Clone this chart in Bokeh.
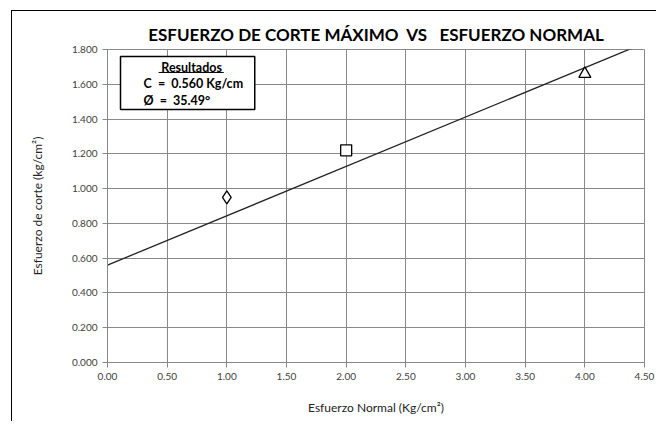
from bokeh.plotting import figure
from bokeh.models import Range1d, FixedTicker, CustomJSTickFormatter, BoxAnnotation, Label
from bokeh.embed import file_html
from bokeh.resources import INLINE

# data
esf_normal = [1.00, 2.00, 4.00]
esf_corte = [0.95, 1.22, 1.66]
markers = ["diamond", "square", "triangle"]
cohesion = 0.560
pendiente = 0.2838
linea_x = [0.0, 4.5]
linea_y = [cohesion + pendiente * v for v in linea_x]
x_ticks = [0.0, 0.5, 1.0, 1.5, 2.0, 2.5, 3.0, 3.5, 4.0, 4.5]
y_ticks = [0.0, 0.2, 0.4, 0.6, 0.8, 1.0, 1.2, 1.4, 1.6, 1.8]

FONT = "Lato"
GRID = "#888888"
NB = "\u00a0"

p = figure(width=645, height=411, output_backend="svg", toolbar_location=None,
           x_range=Range1d(0, 4.5), y_range=Range1d(0, 1.8),
           min_border_left=95, min_border_right=13, min_border_top=38, min_border_bottom=60,
           margin=(10, 0, 0, 11),
           styles={"border-left": "1px solid black", "border-top": "1px solid black"})
p.title.text = "ESFUERZO DE CORTE MÁXIMO" + NB * 2 + "VS" + NB * 3 + "ESFUERZO NORMAL"
p.title.align = "center"
p.title.text_font = FONT
p.title.text_font_size = "17px"
p.title.text_font_style = "bold"
p.title.text_color = "black"

p.outline_line_color = GRID
p.xaxis.ticker = FixedTicker(ticks=x_ticks)
p.yaxis.ticker = FixedTicker(ticks=y_ticks)
p.xaxis.formatter = CustomJSTickFormatter(code="return tick.toFixed(2);")
p.yaxis.formatter = CustomJSTickFormatter(code="return tick.toFixed(3);")
for ax in (p.xaxis, p.yaxis):
    ax.axis_line_color = GRID
    ax.major_tick_line_color = GRID
    ax.major_tick_out = 5
    ax.major_tick_in = 0
    ax.minor_tick_line_color = None
    ax.major_label_text_font = FONT
    ax.major_label_text_font_size = "10px"
    ax.major_label_text_color = "#404040"
    ax.axis_label_text_font = FONT
    ax.axis_label_text_font_size = "12px"
    ax.axis_label_text_font_style = "normal"
    ax.axis_label_text_color = "#222222"
p.xaxis.axis_label = "Esfuerzo Normal (Kg/cm²)"
p.yaxis.axis_label = "Esfuerzo de corte (kg/cm²)"
p.xaxis.axis_label_standoff = 17
p.yaxis.axis_label_standoff = 24
p.xgrid.grid_line_color = GRID
p.ygrid.grid_line_color = GRID

p.line(linea_x, linea_y, line_color="#222222", line_width=1.3)
sizes = {"diamond": 13, "square": 11, "triangle": 12}
for xv, yv, m in zip(esf_normal, esf_corte, markers):
    p.scatter([xv], [yv], marker=m, size=sizes[m], fill_color="white",
              line_color="black", line_width=1.3)

box = BoxAnnotation(left=0.109, right=1.234, bottom=1.455, top=1.760,
                    fill_color="white", fill_alpha=1.0, line_color="black",
                    line_alpha=1.0, line_width=1.5)
p.add_layout(box)
lbl = dict(text_baseline="middle", text_font=FONT, text_font_size="12.5px",
           text_font_style="bold", text_color="black")
p.add_layout(Label(x=0.705, y=1.696, text="Resultados", text_align="center", **lbl))
p.line([0.428, 0.974], [1.668, 1.668], line_color="black", line_width=1, level="overlay")
p.add_layout(Label(x=0.302, y=1.604,
                   text="C" + NB * 2 + "=" + NB * 2 + f"{cohesion:.3f}" + " Kg/cm", **lbl))
p.add_layout(Label(x=0.302, y=1.507, text="Ø" + NB * 2 + "=" + NB * 2 + "35.49°", **lbl))

open("out.html", "w").write(file_html(p, INLINE))
